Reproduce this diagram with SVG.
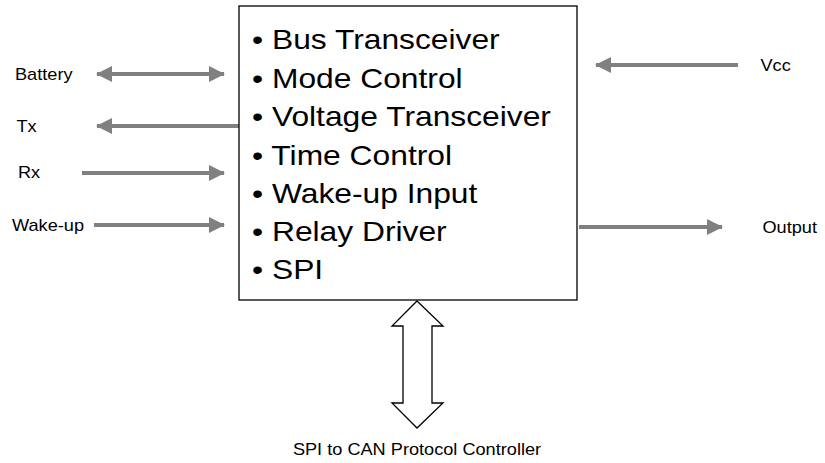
<svg xmlns="http://www.w3.org/2000/svg" width="825" height="463" viewBox="0 0 825 463">
<style>
.lbl{font-family:"Liberation Sans",Arial,sans-serif;font-size:16px;fill:#000}
.item{font-family:"Liberation Sans",Arial,sans-serif;font-size:28px;fill:#000}
.ln{stroke:#808080;stroke-width:4;fill:none}
</style>
<defs>
<marker id="ah" markerWidth="16" markerHeight="16" viewBox="0 0 16 16" refX="15" refY="8" orient="auto-start-reverse" markerUnits="userSpaceOnUse">
<path d="M0,0 L16,8 L0,16 Z" fill="#808080"/>
</marker>
</defs>
<rect width="825" height="463" fill="#fff"/>
<g id="connectors">
<line class="ln" x1="97" y1="74" x2="224" y2="74" marker-start="url(#ah)" marker-end="url(#ah)"/>
<line class="ln" x1="239" y1="126" x2="97" y2="126" marker-end="url(#ah)"/>
<line class="ln" x1="82" y1="173" x2="224" y2="173" marker-end="url(#ah)"/>
<line class="ln" x1="94" y1="225" x2="224" y2="225" marker-end="url(#ah)"/>
<line class="ln" x1="738" y1="65" x2="596" y2="65" marker-end="url(#ah)"/>
<line class="ln" x1="579" y1="227" x2="722" y2="227" marker-end="url(#ah)"/>
<path d="M417,301 L443,326 L432,326 L432,403 L443,403 L417,428 L392,403 L403,403 L403,326 L392,326 Z" fill="#fff" stroke="#000" stroke-width="1.3"/>
</g>
<g id="main">
<rect x="239" y="6" width="338" height="294" fill="#fff" stroke="#000" stroke-width="1.3"/>
<g transform="translate(252,0) scale(1.135,1)">
<text class="item" x="0" y="49.5">• Bus Transceiver</text>
<text class="item" x="0" y="88">• Mode Control</text>
<text class="item" x="0" y="126.5">• Voltage Transceiver</text>
<text class="item" x="0" y="165">• Time Control</text>
<text class="item" x="0" y="203">• Wake-up Input</text>
<text class="item" x="0" y="241">• Relay Driver</text>
<text class="item" x="0" y="279">• SPI</text>
</g>
</g>
<g id="battery"><text class="lbl" transform="translate(15,80) scale(1.135,1)">Battery</text></g>
<g id="tx"><text class="lbl" transform="translate(16.5,132) scale(1.135,1)">Tx</text></g>
<g id="rx"><text class="lbl" transform="translate(18,178) scale(1.135,1)">Rx</text></g>
<g id="wakeup"><text class="lbl" transform="translate(12,231) scale(1.135,1)">Wake-up</text></g>
<g id="vcc"><text class="lbl" transform="translate(760.5,71) scale(1.135,1)">Vcc</text></g>
<g id="output"><text class="lbl" transform="translate(762.5,233) scale(1.135,1)">Output</text></g>
<g id="spi-can"><text class="lbl" text-anchor="middle" transform="translate(417,455) scale(1.135,1)">SPI to CAN Protocol Controller</text></g>
</svg>
